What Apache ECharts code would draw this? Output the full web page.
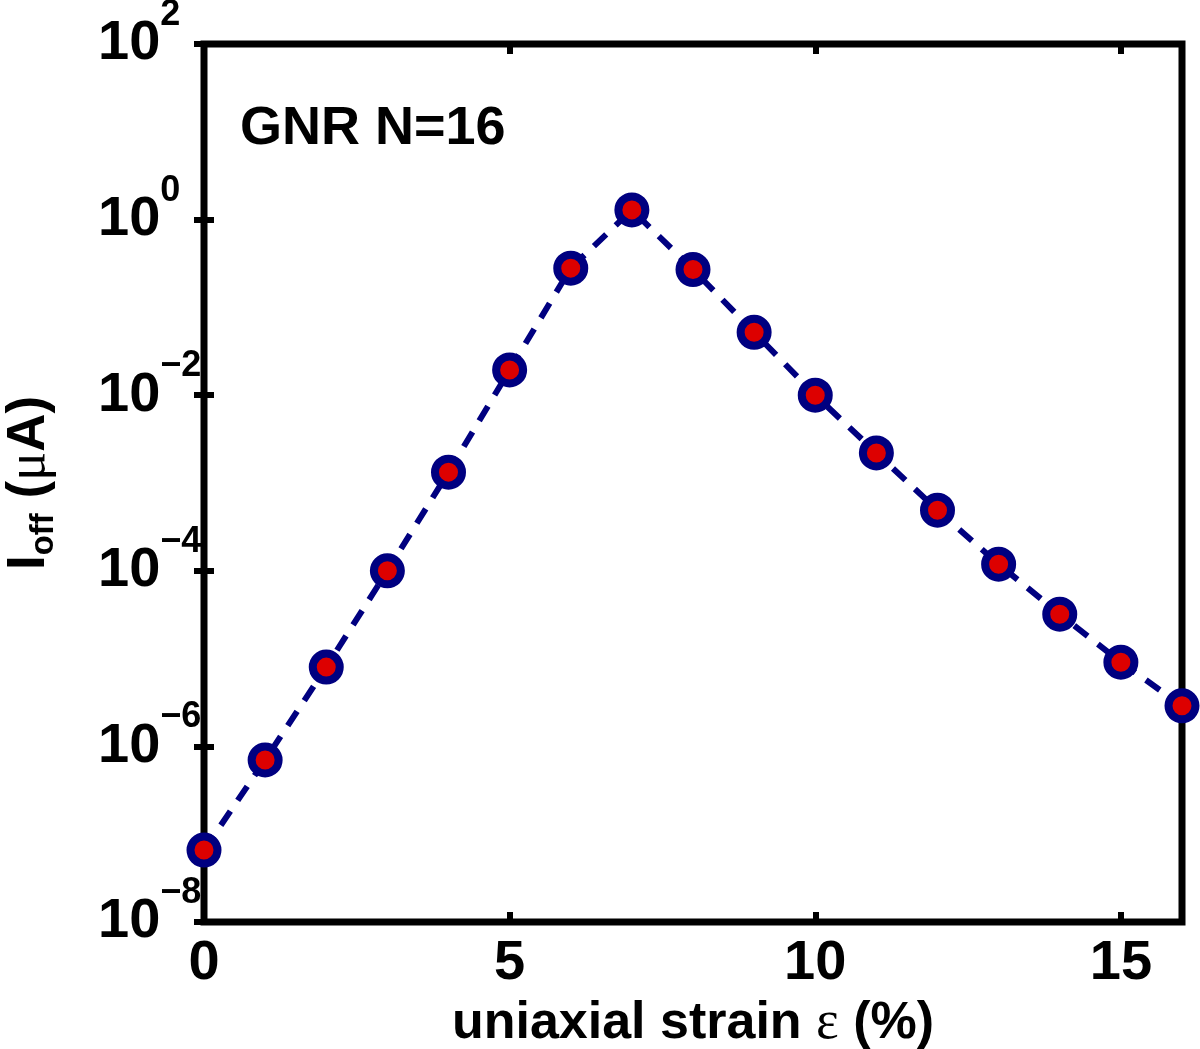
<!DOCTYPE html>
<html><head><meta charset="utf-8">
<script src="https://cdn.jsdelivr.net/npm/echarts@6/dist/echarts.min.js"></script>
<style>html,body{margin:0;padding:0;background:#fff}#c{width:1200px;height:1049px}</style>
</head><body><div id="c"></div>
<script>
// ---- data ----
const strain = [0, 1, 2, 3, 4, 5, 6, 7, 8, 9, 10, 11, 12, 13, 14, 15, 16];
const ioff = [6.6e-8, 7.0e-7, 8.0e-6, 1.0e-4, 1.33e-3, 1.94e-2, 0.28, 1.29, 0.27, 0.052, 0.01, 2.2e-3, 4.9e-4, 1.19e-4, 3.2e-5, 9.1e-6, 2.9e-6];
const xTicks = [0, 5, 10, 15];
const yTickExponents = [-8, -6, -4, -2, 0, 2];
const annotation = 'GNR N=16';
const xName = ['uniaxial strain ', 'ε', ' (%)'];
const yName = ['I', 'off', ' (', 'μ', 'A)'];

const FONT = '"Liberation Sans", Arial, Helvetica, sans-serif';
const SERIF = '"Liberation Serif", "DejaVu Serif", serif';
const NAVY = '#000080';
const RED = '#DD0000';

const chart = echarts.init(document.getElementById('c'));

function expLabel(v) {
  const e = Math.round(Math.log10(v));
  if (!yTickExponents.includes(e)) return '';
  const s = e < 0 ? '\u2212' + Math.abs(e) : String(e);
  return '{b|10}{e|' + s + '}';
}

const tickStyle = { show: true, inside: true, length: 10, lineStyle: { color: '#000', width: 6 } };

const option = {
  backgroundColor: '#fff',
  animation: false,
  grid: { left: 204, right: 18, top: 44, bottom: 127, show: true, borderWidth: 7, borderColor: '#000', backgroundColor: 'transparent', containLabel: false, outerBoundsMode: 'none' },
  xAxis: [{
    type: 'value', min: 0, max: 16, interval: 5, position: 'bottom',
    axisLine: { show: false }, axisTick: tickStyle, splitLine: { show: false },
    axisLabel: {
      show: true, margin: 14, fontSize: 56, fontWeight: 'bold', fontFamily: FONT, color: '#000',
      showMaxLabel: false,
      formatter: v => xTicks.includes(v) ? String(v) : ''
    },
    name: '{n|' + xName[0] + '}{g|' + xName[1] + '}{n|' + xName[2] + '}',
    nameLocation: 'middle', nameGap: 38,
    nameTextStyle: {
      rich: {
        n: { fontSize: 52, fontWeight: 'bold', fontFamily: FONT, color: '#000', lineHeight: 56 },
        g: { fontSize: 54, fontWeight: 'normal', fontFamily: SERIF, color: '#000', lineHeight: 56 }
      }
    }
  }, {
    type: 'value', min: 0, max: 16, interval: 5, position: 'top',
    axisLine: { show: false }, axisTick: tickStyle, splitLine: { show: false }, axisLabel: { show: false }
  }],
  yAxis: [{
    type: 'log', logBase: 10, min: 1e-8, max: 1e2, interval: 2, position: 'left',
    axisLine: { show: false }, axisTick: tickStyle, splitLine: { show: false }, minorTick: { show: false },
    axisLabel: {
      show: true, align: 'left', margin: 106, color: '#000',
      formatter: expLabel,
      rich: {
        b: { fontSize: 56, fontWeight: 'bold', fontFamily: FONT, color: '#000' },
        e: { fontSize: 36, fontWeight: 'bold', fontFamily: FONT, color: '#000', padding: [0, 0, 58, 0] }
      }
    },
    name: '{b|' + yName[0] + '}{s|' + yName[1] + '}{b|' + yName[2] + '}{g|' + yName[3] + '}{b|' + yName[4] + '}',
    nameLocation: 'middle', nameGap: 144,
    nameTextStyle: {
      rich: {
        b: { fontSize: 53, fontWeight: 'bold', fontFamily: FONT, color: '#000' },
        s: { fontSize: 33, fontWeight: 'bold', fontFamily: FONT, color: '#000', padding: [28, 0, 0, 0] },
        g: { fontSize: 54, fontWeight: 'normal', fontFamily: SERIF, color: '#000' }
      }
    }
  }, {
    type: 'log', logBase: 10, min: 1e-8, max: 1e2, interval: 2, position: 'right',
    axisLine: { show: false }, axisTick: tickStyle, splitLine: { show: false }, axisLabel: { show: false }
  }],
  graphic: [{
    type: 'text', left: 240, top: 102, z: 10,
    style: { text: annotation, fontSize: 54, fontWeight: 'bold', fontFamily: FONT, fill: '#000' }
  }],
  series: [{
    type: 'line',
    xAxisIndex: 0, yAxisIndex: 0,
    data: strain.map((x, i) => [x, ioff[i]]),
    clip: false,
    z: 5,
    lineStyle: { color: NAVY, width: 6, type: [17, 13] },
    symbol: 'circle', symbolSize: 27,
    itemStyle: { color: RED, borderColor: NAVY, borderWidth: 8 }
  }]
};
chart.setOption(option);
</script>
</body></html>
